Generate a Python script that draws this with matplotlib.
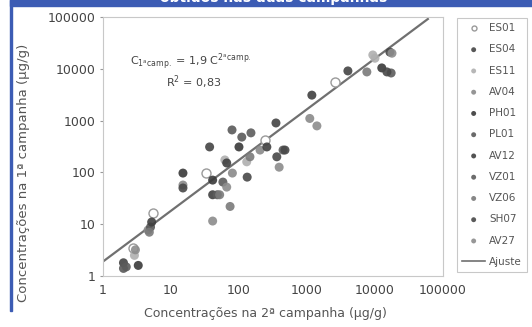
import numpy as np
import matplotlib
matplotlib.use('Agg')
import matplotlib.pyplot as plt
from matplotlib.patches import Rectangle
from matplotlib.lines import Line2D

# dados (2a campanha -> x, 1a campanha -> y), ug/g
series = ['ES01', 'ES04', 'ES11', 'AV04', 'PH01', 'PL01',
          'AV12', 'VZ01', 'VZ06', 'SH07', 'AV27']
x_es01 = [2.8, 5.5, 33, 240, 2600]
y_es01 = [3.5, 16.5, 97, 425, 5600]
x_es04 = [2.0, 37, 350, 4000, 16600]
y_es04 = [1.8, 310, 900, 9100, 21000]
x_es11 = [2.9, 62, 130, 9300, 10000]
y_es11 = [2.5, 174, 160, 18500, 16000]
x_av04 = [4.6, 15, 80, 204, 1100]
y_av04 = [7.7, 57, 97, 270, 1100]
x_ph01 = [3.3, 15, 41, 100, 12600]
y_ph01 = [1.6, 97, 71, 310, 10400]
x_pl01 = [2.0, 5.0, 79, 110, 445]
y_pl01 = [1.4, 8.8, 660, 480, 270]
x_av12 = [5.2, 41, 66, 257, 1180]
y_av12 = [11, 37, 152, 310, 3100]
x_vz01 = [2.2, 48, 58, 150, 17300]
y_vz01 = [1.5, 37, 65, 580, 8300]
x_vz06 = [4.8, 52, 74, 145, 7600]
y_vz06 = [7.0, 37, 22, 200, 8700]
x_sh07 = [15, 132, 360, 475, 15000]
y_sh07 = [50, 81, 200, 270, 8700]
x_av27 = [3.0, 41, 66, 390, 1400, 17800]
y_av27 = [3.2, 11.5, 52, 126, 790, 20000]

xs = [x_es01, x_es04, x_es11, x_av04, x_ph01, x_pl01,
      x_av12, x_vz01, x_vz06, x_sh07, x_av27]
ys = [y_es01, y_es04, y_es11, y_av04, y_ph01, y_pl01,
      y_av12, y_vz01, y_vz06, y_sh07, y_av27]
cores = ['white', '#454545', '#b0b0b0', '#8a8a8a', '#3a3a3a', '#5a5a5a',
         '#404040', '#5c5c5c', '#7a7a7a', '#484848', '#8c8c8c']

# ajuste: C1 = 1,9 C2
coef = 1.9
expo = 0.98
x_fit = [1, 60000]

cinza = '#555555'

fig = plt.figure(figsize=(5.32, 3.27), dpi=100)
ax = fig.add_axes([0.1936, 0.156, 0.639, 0.792])

for i, nome in enumerate(series):
    if nome == 'ES01':
        ax.scatter(xs[i], ys[i], s=42, facecolor='white', edgecolor='#9a9a9a',
                   linewidth=1, zorder=3, label=nome)
    else:
        ax.scatter(xs[i], ys[i], s=42, color=cores[i], edgecolor='none',
                   alpha=0.9, zorder=3, label=nome)

xf = np.array(x_fit, dtype=float)
ax.plot(xf, coef * xf ** expo, color='#707070', lw=1.6, zorder=2)

ax.set_xscale('log')
ax.set_yscale('log')
ax.set_xlim(1, 100000)
ax.set_ylim(1, 100000)
ticks = [1, 10, 100, 1000, 10000, 100000]
ax.set_xticks(ticks)
ax.set_xticklabels([str(t) for t in ticks])
ax.set_yticks(ticks)
ax.set_yticklabels([str(t) for t in ticks])
ax.minorticks_off()
ax.tick_params(colors='#999999', labelcolor='#444444', labelsize=9, length=2)
ax.tick_params(axis='x', length=0, pad=6)
for s in ax.spines.values():
    s.set_color('#c8c8c8')
    s.set_linewidth(0.8)

ax.set_xlabel('Concentrações na 2ª campanha (µg/g)', fontsize=9, color=cinza)
ax.xaxis.set_label_coords(0.477, -0.12)
ax.set_ylabel('Concentrações na 1ª campanha (µg/g)', fontsize=9.5, color=cinza)
ax.yaxis.set_label_coords(-0.215, 0.40)

ax.text(0.08, 0.815, r'$\mathregular{C_{1^a camp.}}$ = 1,9 C$\mathregular{^{2^a camp.}}$',
        transform=ax.transAxes, fontsize=8, color='#444444')
ax.text(0.185, 0.73, r'R$\mathregular{^2}$ = 0,83', transform=ax.transAxes,
        fontsize=8, color='#444444')

handles, labels = ax.get_legend_handles_labels()
handles.append(Line2D([], [], color='#707070', lw=1.2))
labels.append('Ajuste')
leg = fig.legend(handles, labels, loc='upper left', bbox_to_anchor=(0.859, 0.945),
                 fontsize=7.5, frameon=True, fancybox=False, labelspacing=1.08,
                 handlelength=2.2, handletextpad=0.4, borderpad=0.5,
                 borderaxespad=0, markerscale=0.55)
leg.get_frame().set_edgecolor('#bbbbbb')
leg.get_frame().set_linewidth(0.8)
for t in leg.get_texts():
    t.set_color('#555555')

# faixa azul do título e linha lateral
azul = '#3c5cb4'
fig.patches.append(Rectangle((0.019, 0.982), 0.981, 0.02, transform=fig.transFigure,
                             color=azul, zorder=0))
fig.patches.append(Rectangle((0.019, 0.05), 0.004, 0.95, transform=fig.transFigure,
                             color=azul, zorder=0))
fig.text(0.515, 1.006, 'obtidos nas duas campanhas', ha='center', va='center',
         color='white', fontsize=10, fontweight='bold')

fig.savefig('out.png', dpi=100)
